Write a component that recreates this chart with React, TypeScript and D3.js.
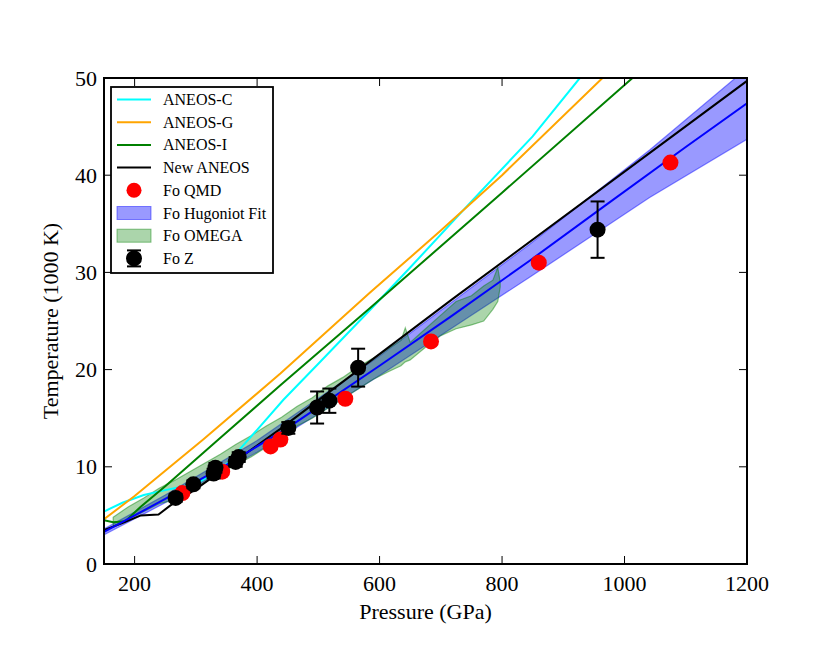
import React from "react";
import * as d3 from "d3";

// ---------- data ----------
const cyanP = [150, 180, 215, 250, 280, 310, 340, 360, 373, 400, 443, 500, 584, 650, 750, 850, 927];
const cyanT = [5.4, 6.3, 7.1, 7.6, 8.0, 8.6, 9.8, 10.8, 11.9, 13.8, 16.9, 20.6, 26.1, 30.5, 37.3, 44.0, 50.0];

const orangeP = [150, 200, 250, 312, 438, 584, 700, 800, 964];
const orangeT = [4.6, 7.0, 9.6, 12.8, 19.6, 27.9, 34.3, 40.0, 50.0];

const greenP = [150, 165, 185, 210, 250, 335, 438, 584, 800, 1013];
const greenT = [4.5, 4.3, 4.4, 5.9, 8.0, 12.7, 18.4, 26.3, 38.2, 50.0];

const newP = [150, 180, 210, 239, 258, 300, 438, 720, 1200];
const newT = [3.5, 4.2, 5.0, 5.1, 6.0, 7.7, 13.9, 27.3, 49.7];

const fitP = [150, 250, 350, 450, 600, 715, 845, 971, 1100, 1200];
const fitT = [3.3, 6.7, 10.2, 14.0, 20.4, 25.4, 31.2, 37.0, 42.9, 47.4];

const bandP = [150, 250, 400, 600, 845, 1041, 1200];
const bandLow = [3.0, 6.3, 11.5, 19.4, 29.5, 37.7, 43.7];
const bandHigh = [3.6, 7.1, 12.7, 21.4, 32.9, 42.6, 51.0];

const omegaP = [165, 190, 215, 240, 265, 290, 315, 340, 365, 390, 415, 440, 465, 490, 515, 540, 565, 590, 615, 635, 642, 650, 675, 700, 725, 750, 770, 785, 793, 797];
const omegaLow = [3.9, 4.6, 5.4, 6.2, 6.6, 7.4, 8.4, 9.3, 10.2, 11.0, 12.0, 13.0, 14.2, 15.0, 16.0, 17.0, 18.0, 19.0, 19.8, 20.4, 20.8, 21.0, 22.3, 23.5, 24.2, 24.6, 25.0, 26.2, 27.0, 28.5];
const omegaHigh = [4.8, 5.9, 6.8, 7.8, 8.6, 9.5, 10.4, 11.3, 12.3, 13.2, 14.2, 15.1, 16.2, 17.1, 18.3, 19.2, 20.3, 21.2, 22.2, 23.0, 24.3, 22.8, 24.2, 25.6, 27.0, 27.6, 28.6, 29.2, 30.5, 29.0];

const qmdP = [278, 343, 422, 438, 544, 684, 860, 1075];
const qmdT = [7.3, 9.5, 12.1, 12.8, 17.0, 22.9, 31.0, 41.3];

const zP = [267, 296, 329, 332, 365, 370, 451, 498, 518, 565, 956];
const zT = [6.8, 8.2, 9.3, 9.9, 10.5, 11.0, 14.0, 16.1, 16.8, 20.2, 34.4];
const zErr = [0.4, 0.4, 0.5, 0.5, 0.5, 0.5, 0.6, 1.65, 1.25, 1.95, 2.9];

const xTicks = [200, 400, 600, 800, 1000, 1200];
const yTicks = [0, 10, 20, 30, 40, 50];

const legendLabels = ["ANEOS-C", "ANEOS-G", "ANEOS-I", "New ANEOS", "Fo QMD", "Fo Hugoniot Fit", "Fo OMEGA", "Fo Z"];

// ---------- layout ----------
const W = 830, H = 664;
const L = 104, R = 747, T = 78, B = 564;
const FONT = "'Liberation Serif', 'Times New Roman', Times, serif";

export default function App() {
  const x = d3.scaleLinear().domain([150, 1200]).range([L, R]);
  const y = d3.scaleLinear().domain([0, 50]).range([B, T]);

  const line = d3.line<[number, number]>().x(d => x(d[0])).y(d => y(d[1]));
  const zip = (a: number[], b: number[]) => a.map((v, i) => [v, b[i]] as [number, number]);

  const bandArea = d3.area<number>()
    .x(i => x(bandP[i]))
    .y0(i => y(bandLow[i]))
    .y1(i => y(bandHigh[i]));
  const omegaArea = d3.area<number>()
    .x(i => x(omegaP[i]))
    .y0(i => y(omegaLow[i]))
    .y1(i => y(omegaHigh[i]));

  const bandIdx = d3.range(bandP.length);
  const omegaIdx = d3.range(omegaP.length);

  const lines = [
    { p: cyanP, t: cyanT, c: "#00ffff" },
    { p: orangeP, t: orangeT, c: "#ffa500" },
    { p: greenP, t: greenT, c: "#008000" },
    { p: newP, t: newT, c: "#000000" },
  ];

  const legX0 = 117, legX1 = 151, legText = 163, legY0 = 99.5, legDy = 22.7;

  return (
    <svg width={W} height={H} style={{ position: "absolute", left: 0, top: 0, background: "#fff" }} fontFamily={FONT}>
      <defs>
        <clipPath id="plotclip">
          <rect x={L} y={T} width={R - L} height={B - T} />
        </clipPath>
      </defs>
      <rect x={0} y={0} width={W} height={H} fill="#fff" />
      <g clipPath="url(#plotclip)">
        <path d={bandArea(bandIdx) || ""} fill="rgba(0,0,255,0.4)" stroke="rgba(0,0,255,0.45)" strokeWidth={1.2} />
        <path d={omegaArea(omegaIdx) || ""} fill="rgba(0,128,0,0.33)" stroke="rgba(0,128,0,0.45)" strokeWidth={1.2} />
        {lines.map((l, i) => (
          <path key={i} d={line(zip(l.p, l.t)) || ""} fill="none" stroke={l.c} strokeWidth={2} />
        ))}
        <path d={line(zip(fitP, fitT)) || ""} fill="none" stroke="#0000ff" strokeWidth={2} />
        {qmdP.map((p, i) => (
          <circle key={"q" + i} cx={x(p)} cy={y(qmdT[i])} r={8} fill="#ff0000" />
        ))}
        {zP.map((p, i) => (
          <g key={"z" + i} stroke="#000" strokeWidth={2}>
            <line x1={x(p)} x2={x(p)} y1={y(zT[i] - zErr[i])} y2={y(zT[i] + zErr[i])} />
            <line x1={x(p) - 7} x2={x(p) + 7} y1={y(zT[i] - zErr[i])} y2={y(zT[i] - zErr[i])} />
            <line x1={x(p) - 7} x2={x(p) + 7} y1={y(zT[i] + zErr[i])} y2={y(zT[i] + zErr[i])} />
            <circle cx={x(p)} cy={y(zT[i])} r={8} fill="#000" stroke="none" />
          </g>
        ))}
      </g>

      {/* ticks */}
      <g stroke="#000" strokeWidth={1}>
        {xTicks.map(t => (
          <g key={"xt" + t}>
            <line x1={x(t)} x2={x(t)} y1={B} y2={B - 8} />
            <line x1={x(t)} x2={x(t)} y1={T} y2={T + 8} />
          </g>
        ))}
        {yTicks.map(t => (
          <g key={"yt" + t}>
            <line x1={L} x2={L + 8} y1={y(t)} y2={y(t)} />
            <line x1={R} x2={R - 8} y1={y(t)} y2={y(t)} />
          </g>
        ))}
      </g>
      <rect x={L} y={T} width={R - L} height={B - T} fill="none" stroke="#000" strokeWidth={2} />

      {xTicks.map(t => (
        <text key={"xl" + t} x={x(t)} y={591} fontSize={22} textAnchor="middle" fill="#000">{t}</text>
      ))}
      {yTicks.map(t => (
        <text key={"yl" + t} x={97} y={y(t) + 7.5} fontSize={22} textAnchor="end" fill="#000">{t}</text>
      ))}
      <text x={(L + R) / 2} y={619} fontSize={22} textAnchor="middle" fill="#000">Pressure (GPa)</text>
      <text transform={`translate(58, ${(T + B) / 2}) rotate(-90)`} fontSize={22} textAnchor="middle" fill="#000">Temperature (1000 K)</text>

      {/* legend */}
      <rect x={111} y={87} width={162} height={186} fill="#fff" stroke="#000" strokeWidth={1.8} />
      {lines.map((l, i) => (
        <line key={"ll" + i} x1={legX0} x2={legX1} y1={legY0 + i * legDy} y2={legY0 + i * legDy} stroke={l.c} strokeWidth={2} />
      ))}
      <circle cx={(legX0 + legX1) / 2} cy={legY0 + 4 * legDy} r={7.5} fill="#ff0000" />
      <rect x={legX0} y={legY0 + 5 * legDy - 6.5} width={legX1 - legX0} height={13} fill="rgba(0,0,255,0.4)" stroke="rgba(0,0,255,0.45)" />
      <rect x={legX0} y={legY0 + 6 * legDy - 6.5} width={legX1 - legX0} height={13} fill="rgba(0,128,0,0.33)" stroke="rgba(0,128,0,0.45)" />
      <g stroke="#000" strokeWidth={2}>
        <line x1={134} x2={134} y1={legY0 + 7 * legDy - 8} y2={legY0 + 7 * legDy + 8} />
        <line x1={127} x2={141} y1={legY0 + 7 * legDy - 8} y2={legY0 + 7 * legDy - 8} />
        <line x1={127} x2={141} y1={legY0 + 7 * legDy + 8} y2={legY0 + 7 * legDy + 8} />
        <circle cx={134} cy={legY0 + 7 * legDy} r={8} fill="#000" stroke="none" />
      </g>
      {legendLabels.map((s, i) => (
        <text key={"lt" + i} x={legText} y={legY0 + i * legDy + 5.5} fontSize={16} fill="#000">{s}</text>
      ))}
    </svg>
  );
}
